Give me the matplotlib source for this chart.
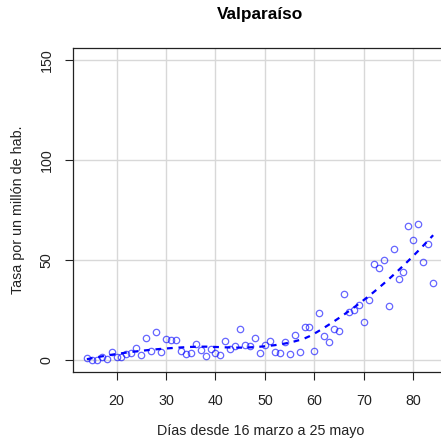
import numpy as np
import matplotlib
matplotlib.use('agg')
import matplotlib.pyplot as plt

plt.rcParams['font.family'] = ['Liberation Sans', 'DejaVu Sans']

# dias desde el 16 de marzo
dias = np.arange(14, 85)
tasa = [0.8, 0.0, 0.0, 1.5, 0.5, 4.0, 1.5, 1.5, 3.0, 3.5,
        6.0, 2.5, 11.0, 4.5, 14.0, 4.0, 10.5, 10.0, 10.0, 4.5,
        3.0, 3.7, 8.0, 5.0, 2.2, 5.4, 3.7, 2.7, 9.5, 5.7,
        7.2, 15.7, 7.7, 7.0, 11.0, 3.7, 7.5, 9.4, 4.0, 3.7,
        9.2, 2.8, 12.7, 4.2, 16.5, 16.4, 4.5, 23.6, 12.2, 9.2,
        15.7, 14.7, 33.1, 23.9, 25.1, 27.7, 18.8, 30.1, 47.9, 45.9,
        50.1, 26.9, 55.5, 40.3, 43.8, 66.8, 59.8, 68.0, 49.0, 58.0,
        38.3]

titulo = 'Valparaíso'
xlab = 'Días desde 16 marzo a 25 mayo'
ylab = 'Tasa por un millón de hab.'
xticks = [20, 30, 40, 50, 60, 70, 80]
yticks = [0, 50, 100, 150]


def loess(x, y, span=0.75):
    """ local quadratic fit, tricube weights """
    x = np.asarray(x, float)
    y = np.asarray(y, float)
    q = int(np.floor(len(x) * span))
    fit = []
    for x0 in x:
        d = np.abs(x - x0)
        h = np.sort(d)[q - 1]
        w = np.clip(1 - (d / h) ** 3, 0, None) ** 3
        X = np.vstack([np.ones_like(x), x - x0, (x - x0) ** 2]).T
        W = np.sqrt(w)
        beta = np.linalg.lstsq(X * W[:, None], y * W, rcond=None)[0]
        fit.append(beta[0])
    return np.array(fit)


fig = plt.figure(figsize=(4.41, 4.40), dpi=100)
ax = fig.add_axes([73 / 441, 68 / 440, 374 / 441, 324 / 440])

ax.grid(True, color='#d8d8d8', linewidth=1.0)
ax.set_axisbelow(True)

ax.plot(dias, tasa, 'o', markersize=4.6, markerfacecolor='none',
        markeredgecolor=(0, 0, 1, 0.6), markeredgewidth=0.9)
ax.plot(dias, loess(dias, tasa), color='#0000ff', linewidth=1.6,
        dashes=(2.6, 2.6))

ax.set_xlim(11.2, 86.8)
ax.set_ylim(-6, 156)
ax.set_xticks(xticks)
ax.set_yticks(yticks)
ax.set_yticklabels([str(v) for v in yticks], rotation=90, va='center')
ax.tick_params(direction='out', length=6, width=0.8, labelsize=10.3,
               colors='#222222', pad=10)
ax.tick_params(axis='y', pad=8)
for s in ax.spines.values():
    s.set_linewidth(0.9)
    s.set_color('#222222')
ax.spines['right'].set_visible(False)

fig.text(260 / 441, 1 - 15 / 440, titulo, ha='center', va='center',
         fontsize=12.4, fontweight='bold')
fig.text(261 / 441, 1 - 431 / 440, xlab, ha='center', va='center',
         fontsize=10.3, color='#222222')
fig.text(18 / 441, 1 - 210 / 440, ylab, ha='center', va='center',
         fontsize=10.3, rotation=90, color='#222222')

fig.savefig('out.png', dpi=100)
